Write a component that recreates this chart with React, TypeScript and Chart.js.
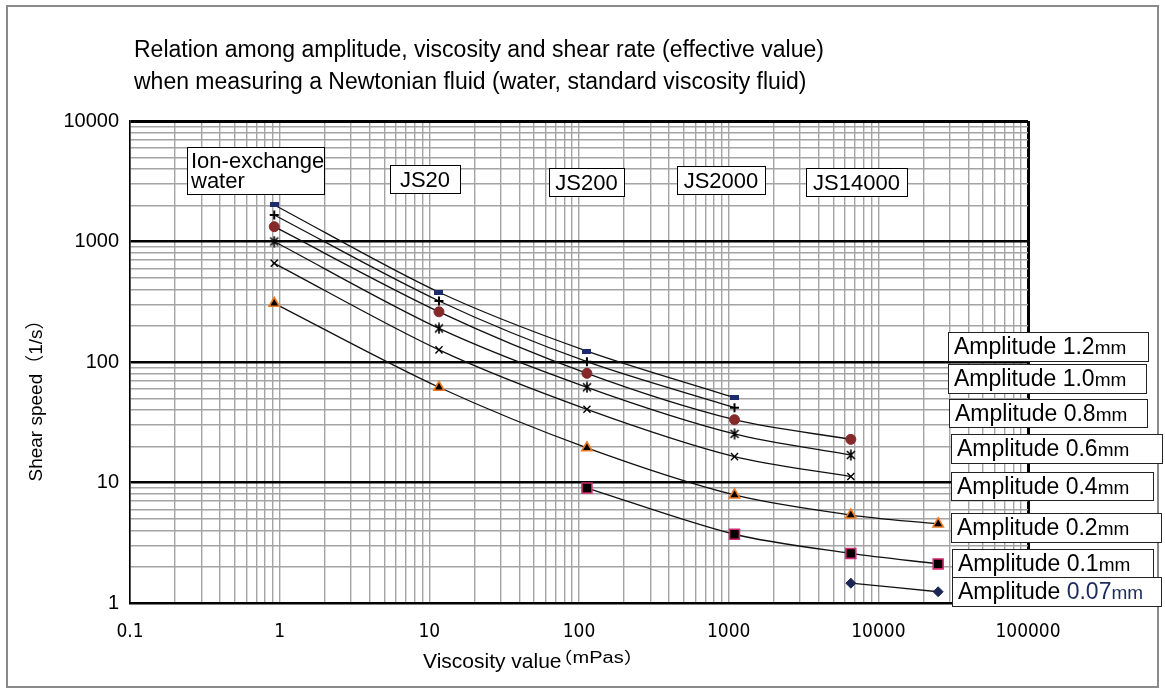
import React, { useEffect, useRef } from "react";
import { Chart, registerables } from "chart.js";

Chart.register(...registerables);

// ---- data ----
const viscosityValues = [0.92, 11.6, 113, 1094, 6550, 25100];
const amplitude12 = [2010, 379, 123, 50.6, null, null];
const amplitude10 = [1660, 321, 100.6, 41.8, null, null];
const amplitude08 = [1327, 261, 80.5, 33.2, 22.8, null];
const amplitude06 = [1000, 190, 61.7, 25.3, 16.9, null];
const amplitude04 = [659, 126, 40.5, 16.4, 11.2, null];
const amplitude02 = [307, 61.7, 19.4, 7.88, 5.37, 4.53];
const amplitude01 = [null, null, 9.0, 3.72, 2.58, 2.11];
const amplitude007 = [null, null, null, null, 1.46, 1.24];

const amplitudeLabels = ["1.2", "1.0", "0.8", "0.6", "0.4", "0.2", "0.1", "0.07"];
const sampleLabels = [["Ion-exchange", "water"], ["JS20"], ["JS200"], ["JS2000"], ["JS14000"]];
const xTickLabels = [0.1, 1, 10, 100, 1000, 10000, 100000];
const yTickLabels = [1, 10, 100, 1000, 10000];
const titleLines = [
  "Relation among amplitude, viscosity and shear rate (effective value)",
  "when measuring a Newtonian fluid (water, standard viscosity fluid)",
];
const yAxisTitle = "Shear speed（1/s）";
const xAxisTitle = "Viscosity value";
const xAxisUnit = "（mPas）";

const FONT = "'Liberation Sans', Arial, 'Noto Sans CJK JP', sans-serif";
const NARROW = "'Liberation Sans Narrow', 'DejaVu Sans Condensed', 'Liberation Sans', Arial, sans-serif";

function logGrid(minExp: number, maxExp: number): number[] {
  const out: number[] = [];
  for (let e = minExp; e < maxExp; e++) {
    for (let m = 1; m <= 9; m++) out.push(Number((m * Math.pow(10, e)).toPrecision(6)));
  }
  out.push(Math.pow(10, maxExp));
  return out;
}
const isPow10 = (v: number) => Math.abs(Math.log10(v) - Math.round(Math.log10(v))) < 1e-9;

function toPoints(arr: (number | null)[]) {
  return viscosityValues
    .map((x, i) => ({ x, y: arr[i] }))
    .filter((p) => p.y !== null) as { x: number; y: number }[];
}

function drawText(
  ctx: CanvasRenderingContext2D,
  s: string,
  x: number,
  y: number,
  size: number,
  color = "#000",
  sx = 1,
  align: CanvasTextAlign = "left"
): number {
  ctx.save();
  ctx.font = `${size}px ${FONT}`;
  ctx.fillStyle = color;
  ctx.textAlign = align;
  ctx.textBaseline = "alphabetic";
  const w = ctx.measureText(s).width * sx;
  ctx.translate(x, y);
  ctx.scale(sx, 1);
  ctx.fillText(s, 0, 0);
  ctx.restore();
  return w;
}

const overlayPlugin = {
  id: "overlay",
  afterDraw(chart: any) {
    const ctx: CanvasRenderingContext2D = chart.ctx;
    // outer frame
    ctx.save();
    ctx.strokeStyle = "#8a8a8a";
    ctx.lineWidth = 2;
    ctx.strokeRect(7, 6, 1151, 681);
    ctx.restore();

    // title
    drawText(ctx, titleLines[0], 134, 57, 23);
    drawText(ctx, titleLines[1], 134, 89, 23);

    // y axis title
    ctx.save();
    ctx.translate(42, 396);
    ctx.rotate(-Math.PI / 2);
    ctx.font = `19px ${FONT}`;
    ctx.fillStyle = "#000";
    ctx.textAlign = "center";
    ctx.textBaseline = "alphabetic";
    ctx.fillText(yAxisTitle, 0, 0);
    ctx.restore();

    // x axis title
    const w = drawText(ctx, xAxisTitle, 423, 668, 21);
    drawText(ctx, xAxisUnit, 423 + w - 9, 663, 16, "#000", 1.25);

    // sample boxes
    const boxes = [
      { x: 187, y: 147, w: 137, h: 47 },
      { x: 390, y: 165, w: 70, h: 28 },
      { x: 549, y: 168, w: 75, h: 28 },
      { x: 677, y: 166, w: 88, h: 28 },
      { x: 806, y: 168, w: 101, h: 28 },
    ];
    sampleLabels.forEach((lines, i) => {
      const b = boxes[i];
      ctx.save();
      ctx.fillStyle = "#fff";
      ctx.fillRect(b.x, b.y, b.w, b.h);
      ctx.strokeStyle = "#000";
      ctx.lineWidth = 1;
      ctx.strokeRect(b.x + 0.5, b.y + 0.5, b.w, b.h);
      ctx.restore();
      if (lines.length === 2) {
        drawText(ctx, lines[0], b.x + 4, b.y + 21, 22);
        drawText(ctx, lines[1], b.x + 4, b.y + 41, 22);
      } else {
        drawText(ctx, lines[0], b.x + b.w / 2, b.y + 22, 22, "#000", 1, "center");
      }
    });

    // amplitude boxes
    const aBoxes = [
      { x: 948, y: 332, w: 200, h: 29 },
      { x: 948, y: 364, w: 198, h: 29 },
      { x: 949, y: 399, w: 198, h: 28 },
      { x: 951, y: 434, w: 211, h: 29 },
      { x: 951, y: 472, w: 202, h: 28 },
      { x: 951, y: 513, w: 210, h: 29 },
      { x: 952, y: 549, w: 201, h: 29 },
      { x: 952, y: 577, w: 209, h: 29 },
    ];
    amplitudeLabels.forEach((lab, i) => {
      const b = aBoxes[i];
      ctx.save();
      ctx.fillStyle = "#fff";
      ctx.fillRect(b.x, b.y, b.w, b.h);
      ctx.strokeStyle = "#222";
      ctx.lineWidth = 1;
      ctx.strokeRect(b.x + 0.5, b.y + 0.5, b.w, b.h);
      ctx.restore();
      const col = i === 7 ? "#1d2b5c" : "#000";
      let x = b.x + 6;
      const base = b.y + 22;
      x += drawText(ctx, "Amplitude ", x, base, 23);
      x += drawText(ctx, lab, x, base, 23, col);
      drawText(ctx, "mm", x, base, 19, col);
    });
  },
};

function makeDash(): HTMLCanvasElement {
  const c = document.createElement("canvas");
  c.width = 9;
  c.height = 5;
  const g = c.getContext("2d")!;
  g.fillStyle = "#1b2b6e";
  g.fillRect(0, 0, 9, 5);
  return c;
}
function makeAsterisk(): HTMLCanvasElement {
  const c = document.createElement("canvas");
  c.width = 12;
  c.height = 12;
  const g = c.getContext("2d")!;
  g.strokeStyle = "#000";
  g.lineWidth = 1.6;
  g.beginPath();
  g.moveTo(2, 2);
  g.lineTo(10, 10);
  g.moveTo(10, 2);
  g.lineTo(2, 10);
  g.moveTo(6, 0.5);
  g.lineTo(6, 11.5);
  g.stroke();
  return c;
}

export default function App() {
  const ref = useRef<HTMLCanvasElement | null>(null);

  useEffect(() => {
    document.body.style.margin = "0";
    const canvas = ref.current!;
    const xGrid = logGrid(-1, 5);
    const yGrid = logGrid(0, 4);
    const line = { borderColor: "#111", borderWidth: 1.3, tension: 0.3, fill: false, showLine: true };

    const datasets: any[] = [
      { ...line, label: amplitudeLabels[0], data: toPoints(amplitude12), pointStyle: makeDash(), pointRadius: 5 },
      { ...line, label: amplitudeLabels[1], data: toPoints(amplitude10), pointStyle: "cross", pointRadius: 4.5, pointBorderColor: "#000", pointBorderWidth: 2 },
      { ...line, label: amplitudeLabels[2], data: toPoints(amplitude08), pointStyle: "circle", pointRadius: 5, pointBackgroundColor: "#86292b", pointBorderColor: "#86292b", pointBorderWidth: 1 },
      { ...line, label: amplitudeLabels[3], data: toPoints(amplitude06), pointStyle: makeAsterisk(), pointRadius: 6 },
      { ...line, label: amplitudeLabels[4], data: toPoints(amplitude04), pointStyle: "crossRot", pointRadius: 5, pointBorderColor: "#000", pointBorderWidth: 1.4 },
      { ...line, label: amplitudeLabels[5], data: toPoints(amplitude02), pointStyle: "triangle", pointRadius: 6, pointBackgroundColor: "#000", pointBorderColor: "#f07a22", pointBorderWidth: 1.6 },
      { ...line, label: amplitudeLabels[6], data: toPoints(amplitude01), pointStyle: "rect", pointRadius: 7, pointBackgroundColor: "#000", pointBorderColor: "#d42a72", pointBorderWidth: 1.6 },
      { ...line, label: amplitudeLabels[7], data: toPoints(amplitude007), pointStyle: "rectRot", pointRadius: 5, pointBackgroundColor: "#1c2654", pointBorderColor: "#1c2654", pointBorderWidth: 1 },
    ];

    const chart = new Chart(canvas, {
      type: "scatter",
      data: { datasets },
      plugins: [overlayPlugin],
      options: {
        animation: false,
        responsive: false,
        devicePixelRatio: 1,
        layout: { padding: { left: 0, right: 137, top: 121, bottom: 0 } },
        plugins: { legend: { display: false }, tooltip: { enabled: false } },
        scales: {
          x: {
            type: "logarithmic",
            position: "bottom",
            min: 0.1,
            max: 100000,
            afterBuildTicks: (s: any) => {
              s.ticks = xGrid.map((v) => ({ value: v }));
            },
            afterFit: (s: any) => {
              s.height = 90;
            },
            ticks: {
              autoSkip: false,
              maxRotation: 0,
              minRotation: 0,
              padding: 18,
              color: "#000",
              font: { family: NARROW, size: 19 },
              callback: (v: any) => (xTickLabels.includes(Number(v)) ? String(v) : ""),
            },
            grid: {
              drawTicks: false,
              color: (c: any) => (c.tick && c.tick.value === 100000 ? "#000" : "#a4a4a4"),
              lineWidth: (c: any) => (c.tick && c.tick.value === 100000 ? 3 : 1.4),
            },
            border: { display: true, color: "#000", width: 2 },
          },
          y: {
            type: "logarithmic",
            position: "left",
            min: 1,
            max: 10000,
            afterBuildTicks: (s: any) => {
              s.ticks = yGrid.map((v) => ({ value: v }));
            },
            afterFit: (s: any) => {
              s.width = 130;
            },
            ticks: {
              autoSkip: false,
              padding: 11,
              color: "#000",
              font: { family: FONT, size: 20 },
              callback: (v: any) => (yTickLabels.includes(Number(v)) ? String(v) : ""),
            },
            grid: {
              drawTicks: false,
              color: (c: any) => (c.tick && isPow10(c.tick.value) ? "#000" : "#a4a4a4"),
              lineWidth: (c: any) => {
                if (!c.tick) return 1.4;
                if (c.tick.value === 10000) return 3;
                return isPow10(c.tick.value) ? 2.6 : 1.4;
              },
            },
            border: { display: true, color: "#000", width: 1.6 },
          },
        },
      } as any,
    });
    return () => chart.destroy();
  }, []);

  return (
    <div style={{ position: "fixed", left: 0, top: 0, width: 1165, height: 693, background: "#fff" }}>
      <canvas ref={ref} width={1165} height={693} style={{ display: "block" }} />
    </div>
  );
}
